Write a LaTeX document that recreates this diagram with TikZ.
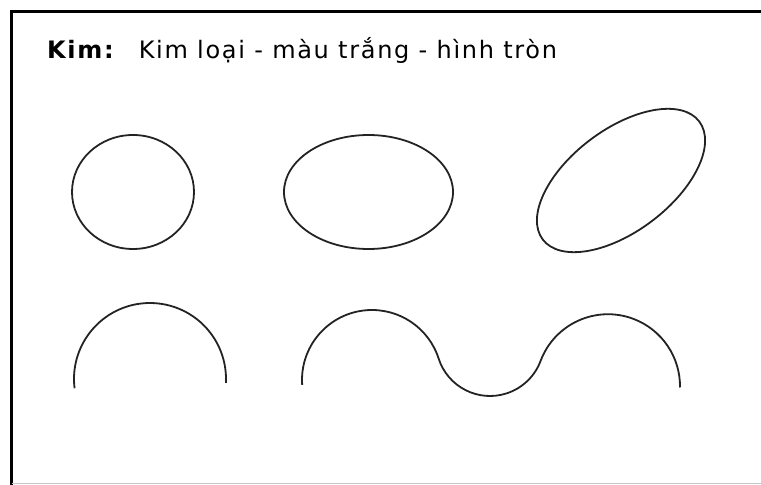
\documentclass[tikz,border=0pt]{standalone}
\usepackage{fontspec}
\setmainfont{DejaVu Sans}
\usepackage{tikz}
\usetikzlibrary{positioning}
\definecolor{inkgray}{RGB}{35,35,35}
\definecolor{edgegray}{RGB}{200,200,200}
\tikzset{
  frameline/.style={draw=black, line width=3.5pt},
  footline/.style={draw=edgegray, line width=1pt},
  shapeline/.style={draw=inkgray, line width=1.8pt},
  titletext/.style={inner sep=0pt, font=\fontsize{24}{28}\selectfont\addfontfeature{LetterSpace=7}}
}

\begin{document}
\begin{tikzpicture}[x=1pt,y=1pt]
  \useasboundingbox (0,0) rectangle (761,485);
  % frame
  \draw[frameline] (11.5,0) -- (11.5,473.5) -- (761,473.5);
  \draw[footline] (11.5,1) -- (761,1);

  % title line
  \node[titletext, anchor=base west] (kim) at (47,426) {\textbf{Kim:}};
  \node[titletext, base right=23pt of kim] (desc) {Kim loại - màu trắng - hình tròn};

  % top row: circle, ellipse, tilted ellipse
  \draw[shapeline] (133,293) ellipse [x radius=61, y radius=57];
  \draw[shapeline] (368.5,293) ellipse [x radius=84.5, y radius=57];
  \draw[shapeline, rotate around={37:(621,304.5)}] (621,304.5) ellipse [x radius=98, y radius=51];

  % bottom row: arch and wave
  \draw[shapeline] (150,106) ++(187:76) arc[start angle=187, end angle=-3, radius=76];
  \draw[shapeline] (372,105) ++(184:70) arc[start angle=184, end angle=17.85, radius=70]
    arc[start angle=197.85, end angle=339.44, radius=54]
    arc[start angle=159.44, end angle=-1, radius=72]; % right hump
\end{tikzpicture}
\end{document}
